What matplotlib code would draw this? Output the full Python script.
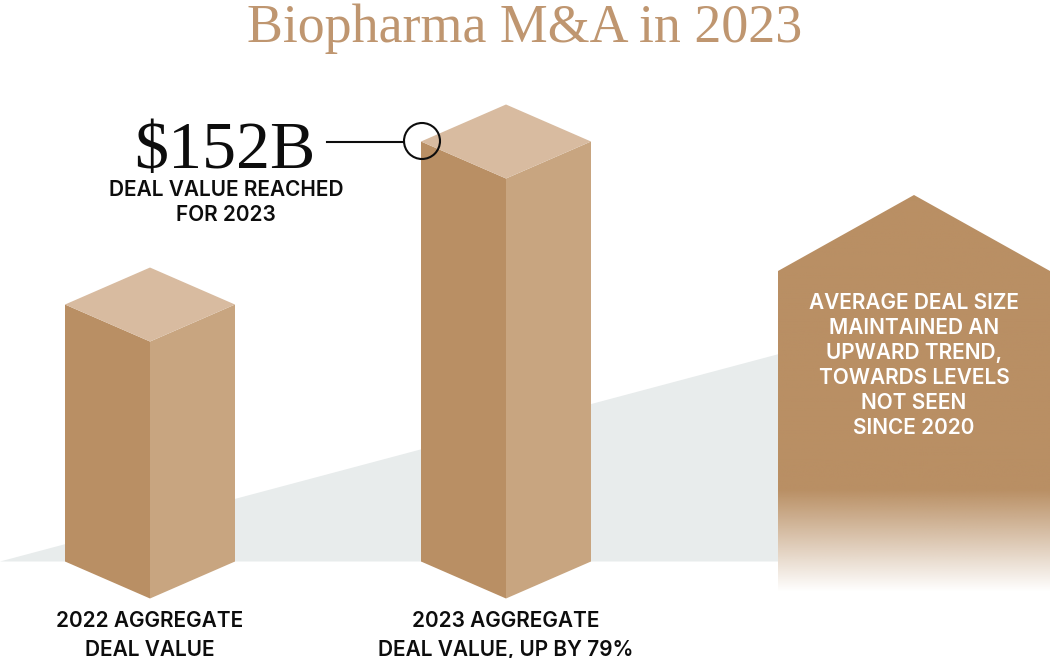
import numpy as np
import matplotlib
matplotlib.use('Agg')
import matplotlib.pyplot as plt
from matplotlib.patches import Polygon, Circle
from matplotlib.colors import to_rgb

# values ($B, bar height)
years = ['2022', '2023']
deal_values = [93, 152]
bar_labels = [['2022 AGGREGATE', 'DEAL VALUE'], ['2023 AGGREGATE', 'DEAL VALUE, UP BY 79%']]
trend_start = 0
trend_end = 75
note = ['AVERAGE DEAL SIZE', 'MAINTAINED AN', 'UPWARD TREND,', 'TOWARDS LEVELS', 'NOT SEEN', 'SINCE 2020']
callout = ['DEAL VALUE REACHED', 'FOR 2023']

TAN = '#b98f64'
MID = '#c8a580'
LIGHT = '#d8bba0'
GREY = '#e8ecec'
TITLE = '#bf9670'
INK = '#0d0d0d'
SERIF = 'Liberation Serif'
SANS = 'Inter'

px_per_b = 420 / 152
base_y = 561.5
centers = [150, 506]
half_w = 85
depth = 37


def label(x, y, s, color=INK, size=15):
    ax.text(x, y, s, ha='center', va='center_baseline', family=SANS, fontsize=size, fontweight='semibold',
            color=color, zorder=5)


fig = plt.figure(figsize=(10.5, 6.58), dpi=100)
ax = fig.add_axes([0, 0, 1, 1])
ax.set_xlim(0, 1050)
ax.set_ylim(658, 0)
ax.axis('off')

# grey wedge behind the bars
ax.add_patch(Polygon([(0, base_y), (778, base_y - trend_end * px_per_b), (778, base_y)],
                     fc=GREY, ec='none', zorder=1))

# 3d bars
for c, v, lab in zip(centers, deal_values, bar_labels):
    top = base_y - v * px_per_b
    l, r = c - half_w, c + half_w
    ax.add_patch(Polygon([(l, top), (c, top + depth), (c, base_y + depth), (l, base_y)], fc=TAN, ec='none', zorder=2))
    ax.add_patch(Polygon([(c, top + depth), (r, top), (r, base_y), (c, base_y + depth)], fc=MID, ec='none', zorder=2))
    ax.add_patch(Polygon([(l, top), (c, top - depth), (r, top), (c, top + depth)], fc=LIGHT, ec='none', zorder=2))
    label(c, 619, lab[0])
    label(c, 648, lab[1])

# house shaped panel, fades out at the bottom
house = Polygon([(778, 271), (914, 195), (1050, 271), (1050, 592), (778, 592)], fc='none', ec='none')
ax.add_patch(house)
alpha = np.clip((592 - np.linspace(195, 592, 400)) / (592 - 490), 0, 1)
grad = np.ones((400, 1, 4))
grad[:, :, :3] = to_rgb(TAN)
grad[:, 0, 3] = alpha
im = ax.imshow(grad, extent=(778, 1050, 592, 195), aspect='auto', zorder=3)
im.set_clip_path(house)
ax.set_xlim(0, 1050)
ax.set_ylim(658, 0)
for i, line in enumerate(note):
    label(914, 301 + 25 * i, line, color='white')

# callout
ax.plot([327, 404], [142, 142], color=INK, lw=1.5, zorder=4)
ax.add_patch(Circle((422, 141), 18, fc='none', ec=INK, lw=1.5, zorder=4))
ax.text(225, 168, '$152B', ha='center', va='baseline', family=SERIF, fontsize=49, color=INK)
label(226, 188, callout[0])
label(226, 213, callout[1])

ax.text(525, 42, 'Biopharma M&A in 2023', ha='center', va='baseline', family=SERIF, fontsize=38.8, color=TITLE)

fig.savefig('out.png', dpi=100)
